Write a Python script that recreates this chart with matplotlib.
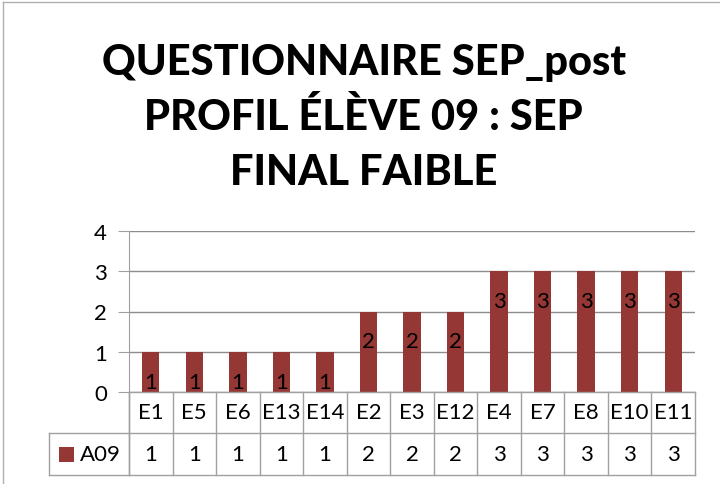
import matplotlib
matplotlib.use("Agg")
import matplotlib.pyplot as plt
from matplotlib.patches import Rectangle
from matplotlib.lines import Line2D
import matplotlib.transforms as mtransforms

categories = ["E1", "E5", "E6", "E13", "E14", "E2", "E3", "E12", "E4", "E7", "E8", "E10", "E11"]
values = [1, 1, 1, 1, 1, 2, 2, 2, 3, 3, 3, 3, 3]
series_name = "A09"
yticks = [0, 1, 2, 3, 4]
title_lines = ["QUESTIONNAIRE SEP_post", "PROFIL ÉLÈVE 09 : SEP", "FINAL FAIBLE"]

plt.rcParams['font.family'] = ['Lato', 'DejaVu Sans']
W, H = 720, 485
fig = plt.figure(figsize=(W / 100, H / 100), dpi=100)

def fx(px):
    return px / W

def fy(py):
    return 1 - py / H

bar_color = "#953735"
grid_color = "#8c8c8c"
table_color = "#a0a0a0"

# outer border (left and top only visible)
fig.add_artist(Line2D([fx(3), fx(3)], [fy(485), fy(3)], transform=fig.transFigure,
                      color="#b0b0b0", lw=1))
fig.add_artist(Line2D([fx(3), fx(720)], [fy(3), fy(3)], transform=fig.transFigure,
                      color="#b0b0b0", lw=1))

left, right, top, bottom = 129, 695, 232, 393
ax = fig.add_axes([fx(left), fy(bottom), fx(right - left), (bottom - top) / H])
n = len(categories)
x = list(range(n))
ax.bar(x, values, width=0.4, color=bar_color, zorder=3)
ax.set_xlim(-0.5, n - 0.5)
ax.set_ylim(0, 4)
ax.set_yticks(yticks)
ax.set_yticklabels([str(t) for t in yticks], fontsize=16)
ax.set_xticks([])
for s in ["top", "right", "bottom"]:
    ax.spines[s].set_visible(False)
ax.spines["left"].set_color(table_color)
ax.tick_params(axis="y", length=8, color=table_color, pad=8)
ax.grid(axis="y", color=grid_color, lw=1, zorder=0)
ax.set_axisbelow(True)

for xi, v in zip(x, values):
    ax.annotate(str(v), (xi, v), xytext=(0, -30), textcoords="offset pixels",
                ha="center", va="center", fontsize=16, color="black", zorder=4)

# data table
row1_bot, row2_bot, legend_left = 434, 476, 49
lines = []
lines.append(((left, row1_bot), (right, row1_bot)))
lines.append(((legend_left, row1_bot), (left, row1_bot)))
lines.append(((legend_left, row2_bot), (right, row2_bot)))
lines.append(((legend_left, row1_bot), (legend_left, row2_bot)))
lines.append(((left, bottom), (left, row2_bot)))
lines.append(((left, bottom), (right, bottom)))
for (x0, y0), (x1, y1) in lines:
    fig.add_artist(Line2D([fx(x0), fx(x1)], [fy(y0), fy(y1)], transform=fig.transFigure,
                          color=table_color, lw=1))

trans = mtransforms.blended_transform_factory(ax.transData, fig.transFigure)
for i in range(n + 1):
    xb = i - 0.5
    fig.add_artist(Line2D([xb, xb], [fy(bottom), fy(row2_bot)], transform=trans,
                          color=table_color, lw=1))
for xi, c, v in zip(x, categories, values):
    fig.text(xi, fy((bottom + row1_bot) / 2), c, transform=trans, ha="center", va="center",
             fontsize=16)
    fig.text(xi, fy((row1_bot + row2_bot) / 2), str(v), transform=trans, ha="center",
             va="center", fontsize=16)

fig.add_artist(Rectangle((fx(59), fy(463)), fx(15), 15 / H, transform=fig.transFigure,
                         facecolor=bar_color, edgecolor="none"))
fig.text(fx(80), fy((row1_bot + row2_bot) / 2), series_name, ha="left", va="center", fontsize=16)

# title
for t, yb in zip(title_lines, [75, 130, 185]):
    fig.text(0.505, fy(yb), t, ha="center", va="baseline", fontsize=30, fontweight="black")

fig.savefig("out.png", dpi=100)
